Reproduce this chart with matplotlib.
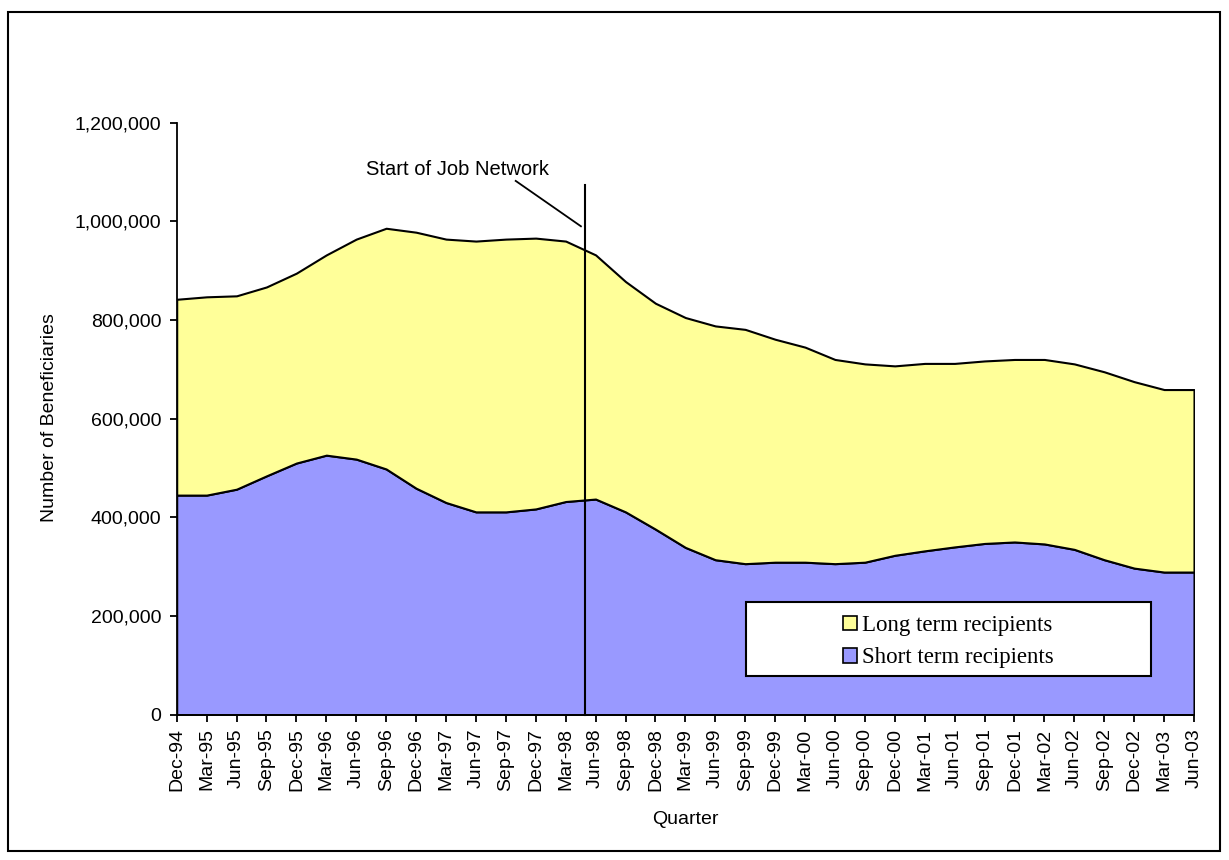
import matplotlib
matplotlib.use('Agg')
import matplotlib.pyplot as plt
from matplotlib.patches import Rectangle, Patch
from matplotlib.ticker import FuncFormatter
import numpy as np

quarters = ['Dec-94', 'Mar-95', 'Jun-95', 'Sep-95', 'Dec-95', 'Mar-96', 'Jun-96', 'Sep-96',
            'Dec-96', 'Mar-97', 'Jun-97', 'Sep-97', 'Dec-97', 'Mar-98', 'Jun-98', 'Sep-98',
            'Dec-98', 'Mar-99', 'Jun-99', 'Sep-99', 'Dec-99', 'Mar-00', 'Jun-00', 'Sep-00',
            'Dec-00', 'Mar-01', 'Jun-01', 'Sep-01', 'Dec-01', 'Mar-02', 'Jun-02', 'Sep-02',
            'Dec-02', 'Mar-03', 'Jun-03']

short_term = [445000, 445000, 457000, 484000, 510000, 526000, 518000, 498000, 459000,
              430000, 411000, 411000, 417000, 432000, 437000, 411000, 376000, 339000,
              314000, 306000, 309000, 309000, 306000, 309000, 323000, 332000, 340000,
              347000, 350000, 346000, 335000, 314000, 297000, 289000, 289000]

long_term = [397000, 402000, 392000, 383000, 385000, 406000, 446000, 488000, 519000,
             534000, 549000, 553000, 549000, 528000, 495000, 467000, 458000, 466000,
             474000, 475000, 452000, 436000, 414000, 402000, 384000, 380000, 372000,
             370000, 370000, 374000, 376000, 381000, 378000, 370000, 370000]

series_labels = ['Long term recipients', 'Short term recipients']
yticks = [0, 200000, 400000, 600000, 800000, 1000000, 1200000]

YELLOW = '#FFFF99'
BLUE = '#9999FF'
SANS = 'Liberation Sans'
FS = 14

W, H = 1229, 860
fig = plt.figure(figsize=(W / 100, H / 100), dpi=100)
fig.patch.set_facecolor('white')

# outer border
fig.patches.append(Rectangle((8 / W, 1 - 851 / H), (1220 - 8) / W, (851 - 12) / H,
                             transform=fig.transFigure, fill=False,
                             edgecolor='black', linewidth=1.5))

left, right = 176.7 / W, 1194 / W
top, bottom = 1 - 122.7 / H, 1 - 714.6 / H
ax = fig.add_axes([left, bottom, right - left, top - bottom])

x = np.arange(len(quarters))
short = np.array(short_term)
total = short + np.array(long_term)

ax.fill_between(x, 0, short, facecolor=BLUE, edgecolor='black', linewidth=1.5, zorder=2)
ax.fill_between(x, short, total, facecolor=YELLOW, edgecolor='black', linewidth=1.5, zorder=2)

ax.set_xlim(0, len(quarters) - 1)
ax.set_ylim(0, 1200000)

ax.set_xticks(x)
ax.set_xticklabels(quarters, rotation=90, fontsize=FS, family=SANS)
ax.set_yticks(yticks)
ax.yaxis.set_major_formatter(FuncFormatter(lambda v, p: f'{int(v):,}'))
for lbl in ax.get_yticklabels():
    lbl.set_fontsize(FS)
    lbl.set_family(SANS)
ax.tick_params(axis='both', direction='out', length=5, width=1.3, color='black')
ax.tick_params(axis='x', pad=5)
ax.tick_params(axis='y', pad=6)

for s in ['top', 'right']:
    ax.spines[s].set_visible(False)
for s in ['left', 'bottom']:
    ax.spines[s].set_linewidth(1.3)
    ax.spines[s].set_zorder(5)

fig.text(685 / W, 1 - 819 / H, 'Quarter', fontsize=FS, family=SANS, ha='center', va='center')
fig.text(50 / W, 1 - 418 / H, 'Number of Beneficiaries', fontsize=FS, family=SANS,
         rotation=90, ha='center', va='center')

# Job Network marker
jn_x = 13.63
ax.plot([jn_x, jn_x], [0, 1074000], color='black', linewidth=1.5, zorder=4, clip_on=False)
ax.plot([11.33, 13.51], [1082000, 990000], color='black', linewidth=1.3, zorder=4, clip_on=False)
ax.text(9.37, 1106000, 'Start of Job Network', fontsize=14.5, family=SANS,
        ha='center', va='center')

# legend box
bx0, by0 = (746 - 176.7) / 1017.3, (714.6 - 675.7) / 591.9
bw, bh = (1151 - 746) / 1017.3, (675.7 - 601.7) / 591.9
ax.add_patch(Rectangle((bx0, by0), bw, bh, transform=ax.transAxes, facecolor='white',
                       edgecolor='black', linewidth=1.5, zorder=6))
handles = [Patch(facecolor=YELLOW, edgecolor='black', linewidth=1.2),
           Patch(facecolor=BLUE, edgecolor='black', linewidth=1.2)]
leg = ax.legend(handles, series_labels, loc='center',
                bbox_to_anchor=(bx0 + bw / 2, by0 + bh / 2 - 0.005), bbox_transform=ax.transAxes,
                frameon=False, prop={'family': 'Liberation Serif', 'size': 16.5},
                handlelength=0.6, handleheight=0.6, handletextpad=0.2, labelspacing=0.5)
leg.set_zorder(7)

fig.savefig('out.png', dpi=100)
